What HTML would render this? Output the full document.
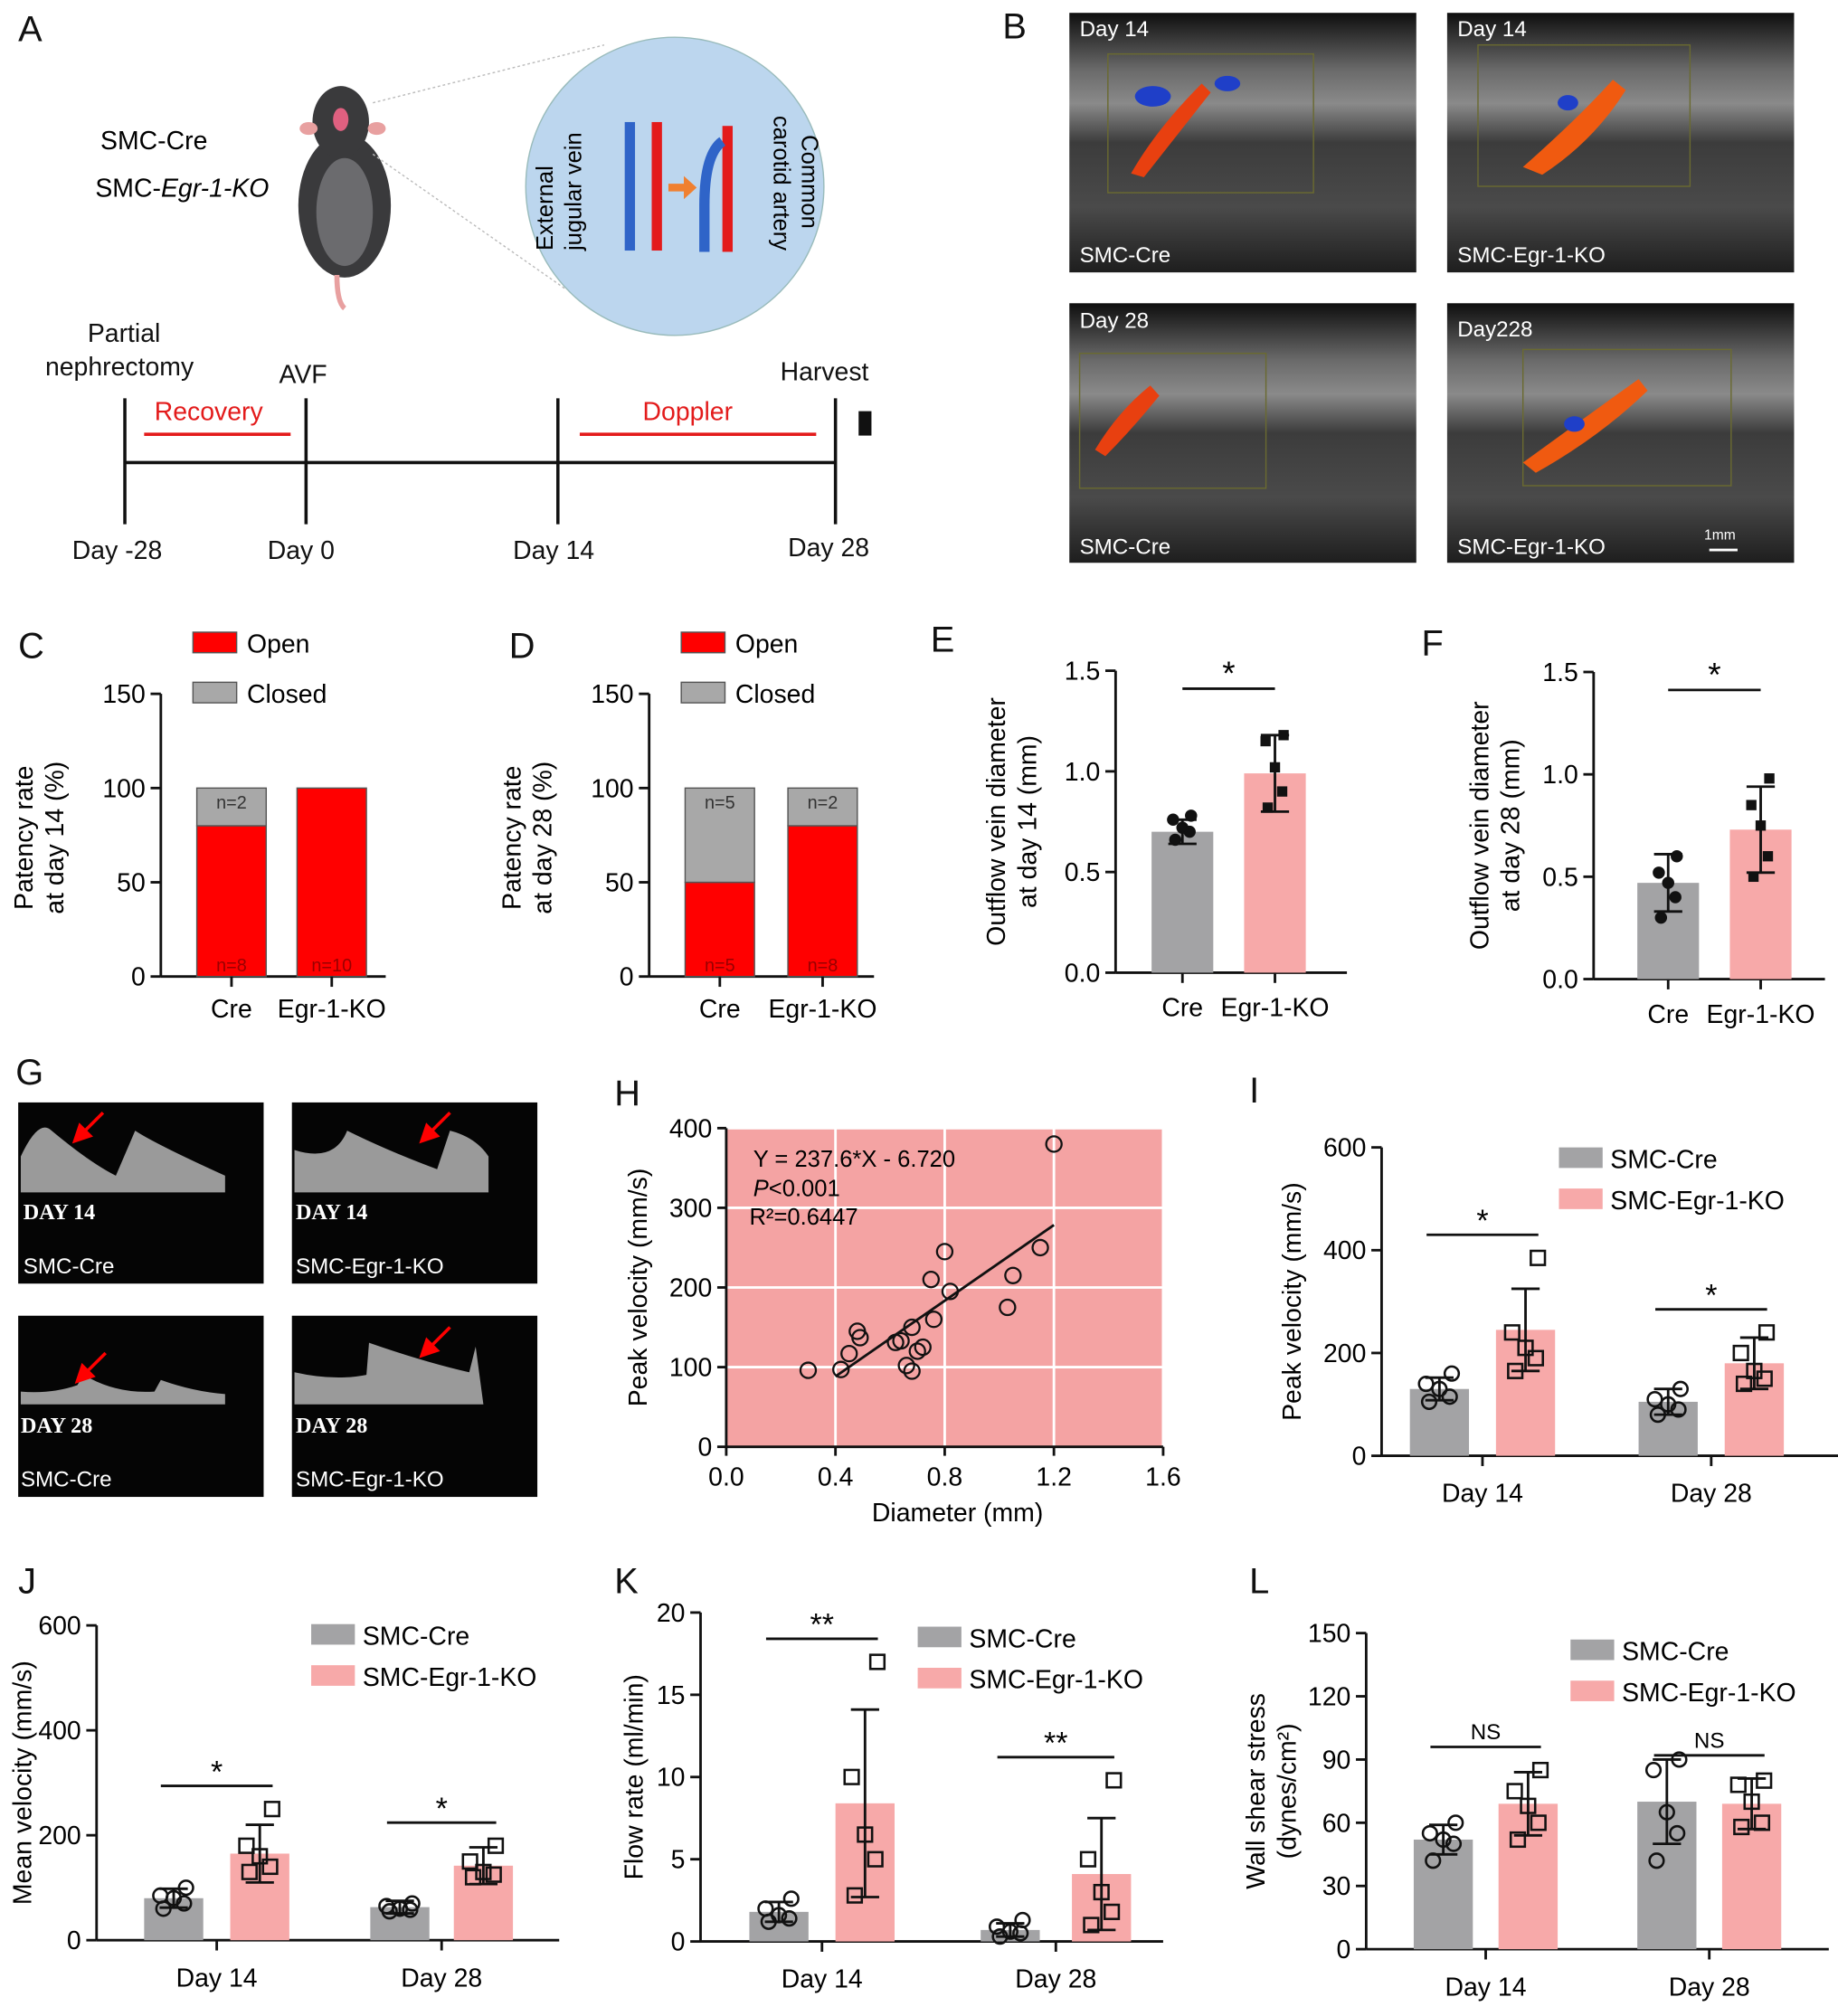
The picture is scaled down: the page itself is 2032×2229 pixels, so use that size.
<!DOCTYPE html>
<html><head><meta charset="utf-8">
<style>
html,body{margin:0;padding:0;background:#fff;}
svg{display:block;font-family:"Liberation Sans",Arial,sans-serif;}
</style></head>
<body>
<svg id="fig" width="2032" height="2229" viewBox="0 0 1430 1569" xmlns="http://www.w3.org/2000/svg">
<rect width="1430" height="1569" fill="#fff"/>
<g font-size="28" fill="#111">
<text x="14" y="32">A</text><text x="780" y="30">B</text>
<text x="14" y="512">C</text><text x="396" y="512">D</text><text x="724" y="507">E</text><text x="1106" y="510">F</text>
<text x="12" y="844">G</text><text x="478" y="860">H</text><text x="972" y="858">I</text>
<text x="14" y="1240">J</text><text x="478" y="1240">K</text><text x="972" y="1240">L</text>
</g>
<g>
<text x="78" y="116" font-size="20">SMC-Cre</text>
<text x="74" y="153" font-size="20">SMC-<tspan font-style="italic">Egr-1-KO</tspan></text>
<g>
<ellipse cx="268" cy="160" rx="36" ry="56" fill="#3a3a3c"/>
<ellipse cx="268" cy="165" rx="22" ry="42" fill="#6b6b6e"/>
<ellipse cx="265" cy="95" rx="22" ry="28" fill="#3a3a3c"/>
<ellipse cx="265" cy="93" rx="6" ry="9" fill="#e06080"/>
<ellipse cx="240" cy="100" rx="7" ry="5" fill="#e8a0a0"/><ellipse cx="293" cy="100" rx="7" ry="5" fill="#e8a0a0"/>
<path d="M262 214 Q262 235 268 240" stroke="#e8a0a0" stroke-width="4" fill="none"/>
</g>
<line x1="290" y1="80" x2="470" y2="35" stroke="#bbb" stroke-dasharray="2,2"/>
<line x1="290" y1="120" x2="440" y2="225" stroke="#bbb" stroke-dasharray="2,2"/>
<circle cx="525" cy="145" r="116" fill="#bcd6ee" stroke="#9bb"/>
<rect x="486" y="95" width="8" height="100" fill="#2f64c8"/><rect x="507" y="95" width="8" height="100" fill="#e31b1b"/>
<rect x="562" y="98" width="8" height="98" fill="#e31b1b"/>
<path d="M548 196 L548 160 Q548 120 562 110" stroke="#2f64c8" stroke-width="8" fill="none"/>
<path d="M520 143 h12 v-6 l10 9 l-10 9 v-6 h-12z" fill="#f08030"/>
<text transform="translate(430,195) rotate(-90)" font-size="18">External</text>
<text transform="translate(452,195) rotate(-90)" font-size="18">jugular vein</text>
<text transform="translate(602,90) rotate(90)" font-size="18">carotid artery</text>
<text transform="translate(624,105) rotate(90)" font-size="18">Common</text>
<g stroke="#111" stroke-width="2.5">
<line x1="97" y1="360" x2="650" y2="360"/>
<line x1="97" y1="310" x2="97" y2="408"/><line x1="238" y1="310" x2="238" y2="408"/>
<line x1="434" y1="310" x2="434" y2="408"/><line x1="650" y1="310" x2="650" y2="408"/>
</g>
<line x1="112" y1="338" x2="226" y2="338" stroke="#e31b1b" stroke-width="2.5"/>
<line x1="451" y1="338" x2="635" y2="338" stroke="#e31b1b" stroke-width="2.5"/>
<rect x="668" y="320" width="10" height="19" fill="#111"/>
<g font-size="20" fill="#111">
<text x="68" y="266">Partial</text><text x="35" y="292">nephrectomy</text>
<text x="217" y="298">AVF</text><text x="607" y="296">Harvest</text>
<text x="120" y="327" fill="#e31b1b">Recovery</text><text x="500" y="327" fill="#e31b1b">Doppler</text>
<text x="56" y="435">Day -28</text><text x="208" y="435">Day 0</text><text x="399" y="435">Day 14</text><text x="613" y="433">Day 28</text>
</g>
</g>
<defs>
<linearGradient id="us" x1="0" y1="0" x2="0" y2="1"><stop offset="0" stop-color="#0e0e0e"/><stop offset="0.22" stop-color="#6a6a6a"/><stop offset="0.35" stop-color="#8a8a8a"/><stop offset="0.5" stop-color="#3c3c3c"/><stop offset="0.75" stop-color="#4a4a4a"/><stop offset="1" stop-color="#1e1e1e"/></linearGradient>
</defs>
<g font-size="17" fill="#fff">
<g><rect x="832" y="10" width="270" height="202" fill="url(#us)"/>
<rect x="862" y="42" width="160" height="108" fill="none" stroke="#6a6a30"/>
<path d="M880 135 Q900 100 935 65 L942 72 Q912 110 890 138z" fill="#e84010"/><ellipse cx="897" cy="75" rx="14" ry="8" fill="#1f3fc8"/><ellipse cx="955" cy="65" rx="10" ry="6" fill="#1f3fc8"/>
<text x="840" y="28">Day 14</text><text x="840" y="204">SMC-Cre</text></g>
<g><rect x="1126" y="10" width="270" height="202" fill="url(#us)"/>
<rect x="1150" y="35" width="165" height="110" fill="none" stroke="#6a6a30"/>
<path d="M1185 130 Q1230 90 1255 62 L1265 70 Q1240 110 1200 136z" fill="#f05a10"/><ellipse cx="1220" cy="80" rx="8" ry="6" fill="#1f3fc8"/>
<text x="1134" y="28">Day 14</text><text x="1134" y="204">SMC-Egr-1-KO</text></g>
<g><rect x="832" y="236" width="270" height="202" fill="url(#us)"/>
<rect x="840" y="275" width="145" height="105" fill="none" stroke="#6a6a30"/>
<path d="M852 350 Q870 320 895 300 L902 308 Q880 335 860 355z" fill="#e84010"/>
<text x="840" y="255">Day  28</text><text x="840" y="431">SMC-Cre</text></g>
<g><rect x="1126" y="236" width="270" height="202" fill="url(#us)"/>
<rect x="1185" y="272" width="162" height="106" fill="none" stroke="#6a6a30"/>
<path d="M1185 360 Q1240 320 1275 295 L1282 304 Q1245 340 1195 368z" fill="#f05a10"/><ellipse cx="1225" cy="330" rx="8" ry="6" fill="#1f3fc8"/>
<text x="1134" y="262">Day228</text><text x="1134" y="431">SMC-Egr-1-KO</text>
<text x="1326" y="420" font-size="11">1mm</text><line x1="1330" y1="428" x2="1352" y2="428" stroke="#fff" stroke-width="2"/></g>
</g>
<g fill="#fff">
<g><rect x="14" y="858" width="191" height="141" fill="#050505"/>
<path d="M16 928 L16 900 Q30 870 40 880 Q70 905 90 915 L105 880 Q120 890 175 915 L175 928z" fill="#9a9a9a"/>
<text x="18" y="949" font-family="Liberation Serif" font-weight="bold" font-size="17">DAY 14</text><text x="18" y="991" font-size="17">SMC-Cre</text></g>
<g><rect x="227" y="858" width="191" height="141" fill="#050505"/>
<path d="M229 928 L229 895 Q260 905 270 880 Q300 895 340 910 L350 880 Q370 885 380 900 L380 928z" fill="#9a9a9a"/>
<text x="230" y="949" font-family="Liberation Serif" font-weight="bold" font-size="17">DAY 14</text><text x="230" y="991" font-size="17">SMC-Egr-1-KO</text></g>
<g><rect x="14" y="1024" width="191" height="141" fill="#050505"/>
<path d="M16 1093 L16 1083 Q40 1085 60 1078 L65 1070 Q90 1085 120 1083 L125 1074 Q150 1083 175 1085 L175 1093z" fill="#9a9a9a"/>
<text x="16" y="1115" font-family="Liberation Serif" font-weight="bold" font-size="17">DAY 28</text><text x="16" y="1157" font-size="17">SMC-Cre</text></g>
<g><rect x="227" y="1024" width="191" height="141" fill="#050505"/>
<path d="M229 1093 L229 1068 Q260 1075 285 1070 L287 1045 Q330 1060 365 1068 L370 1048 L376 1093z" fill="#9a9a9a"/>
<text x="230" y="1115" font-family="Liberation Serif" font-weight="bold" font-size="17">DAY 28</text><text x="230" y="1157" font-size="17">SMC-Egr-1-KO</text></g>
<g stroke="#f00" stroke-width="2.5" fill="#f00">
<line x1="80" y1="866" x2="64" y2="882"/><polygon points="58,888 62,876 70,884"/>
<line x1="350" y1="866" x2="334" y2="882"/><polygon points="328,888 332,876 340,884"/>
<line x1="82" y1="1053" x2="66" y2="1069"/><polygon points="60,1075 64,1063 72,1071"/>
<line x1="350" y1="1033" x2="334" y2="1049"/><polygon points="328,1055 332,1043 340,1051"/>
</g>
</g>
<g id="charts"></g>
</svg>
<script>
var cCats=["Cre","Egr-1-KO"]; var cOpen=[80,100]; var cClosed=[20,0]; var cOpenN=["n=8","n=10"]; var cClosedN=["n=2",""];
var dCats=["Cre","Egr-1-KO"]; var dOpen=[50,80]; var dClosed=[50,20]; var dOpenN=["n=5","n=8"]; var dClosedN=["n=5","n=2"];
var stackTicks=[0,50,100,150];
var eCats=["Cre","Egr-1-KO"]; var eMeans=[0.70,0.99]; var eSD=[0.06,0.19];
var ePts=[[0.66,0.70,0.72,0.76,0.78],[0.82,0.90,1.02,1.15,1.18]];
var fCats=["Cre","Egr-1-KO"]; var fMeans=[0.47,0.73]; var fSD=[0.14,0.21];
var fPts=[[0.30,0.40,0.47,0.52,0.60],[0.50,0.60,0.75,0.85,0.98]];
var diamTicks=[0,0.5,1.0,1.5];
var hX=[0.30,0.42,0.45,0.48,0.49,0.62,0.64,0.66,0.68,0.68,0.70,0.72,0.75,0.76,0.80,0.82,1.03,1.05,1.15,1.20];
var hY=[96,97,117,145,137,131,133,102,95,150,120,125,210,160,245,195,175,215,250,380];
var hXTicks=[0,0.4,0.8,1.2,1.6]; var hYTicks=[0,100,200,300,400];
var hSlope=237.6; var hIntercept=-6.720;
var dayCats=["Day 14","Day 28"];
var iMeans=[[130,245],[105,180]]; var iSD=[[22,80],[25,50]];
var iPts=[[[105,115,130,140,160],[165,190,210,240,385]],[[80,90,100,110,130],[140,150,165,200,240]]];
var iTicks=[0,200,400,600]; var iSig=["*","*"];
var jMeans=[[80,165],[63,142]]; var jSD=[[18,55],[12,35]];
var jPts=[[[60,70,80,85,100],[130,140,160,180,250]],[[55,58,60,65,70],[120,125,130,150,180]]];
var jTicks=[0,200,400,600]; var jSig=["*","*"];
var kMeans=[[1.8,8.4],[0.7,4.1]]; var kSD=[[0.6,5.7],[0.4,3.4]];
var kPts=[[[1.2,1.4,1.6,2.0,2.6],[2.8,5,6.5,10,17]],[[0.3,0.5,0.6,0.9,1.3],[1.0,1.8,3,5,9.8]]];
var kTicks=[0,5,10,15,20]; var kSig=["**","**"];
var lMeans=[[52,69],[70,69]]; var lSD=[[7,15],[20,12]];
var lPts=[[[42,50,52,55,60],[52,60,68,75,85]],[[42,55,65,85,90],[58,60,70,78,80]]];
var lTicks=[0,30,60,90,120,150]; var lSig=["NS","NS"];

var NS="http://www.w3.org/2000/svg"; var root=document.getElementById("charts");
function mk(tag,at,parent,txt){var e=document.createElementNS(NS,tag);for(var k in at)e.setAttribute(k,at[k]);if(txt!==undefined)e.textContent=txt;(parent||root).appendChild(e);return e;}
var GRAY="#a3a3a5", PINK="#f7a9a9", RED="#ff0000";
var JIT=[-1,1,0,-1.3,1.2];

function yAxis(g,x,y0,y1,vmax,ticks,fmt){
  var sc=function(v){return y0-(y0-y1)*v/vmax;};
  var ax=mk("line",{x1:x,y1:sc(0),x2:x,y2:sc(ticks[ticks.length-1]),stroke:"#111","stroke-width":2},g);
   
  ticks.forEach(function(t){
    mk("line",{x1:x-8,y1:sc(t),x2:x,y2:sc(t),stroke:"#111","stroke-width":2},g);
    var lb=mk("text",{x:x-12,y:sc(t)+7,"font-size":20,"text-anchor":"end"},g,fmt?fmt(t):t);
     
  });
  return sc;
}
function yTitle(g,x,y,lines){
  lines.forEach(function(s,i){var t=mk("text",{transform:"translate("+(x+i*24)+","+y+") rotate(-90)","font-size":20,"text-anchor":"middle"},g,s);
   });
}
function stacked(name,ax,xs,cats,open,closed,openN,closedN,title){
  var g=mk("g",{});  
  var sc=yAxis(g,ax,760,540,150,stackTicks);
  mk("line",{x1:ax,y1:760,x2:ax+175,y2:760,stroke:"#111","stroke-width":2},g);
  yTitle(g,ax-100,652,title);
  cats.forEach(function(c,i){
    var x=xs[i];
    var r=mk("rect",{x:x-27,y:sc(open[i]),width:54,height:sc(0)-sc(open[i]),fill:RED,stroke:"#555"},g);
     
    if(closed[i]>0){var r2=mk("rect",{x:x-27,y:sc(open[i]+closed[i]),width:54,height:sc(open[i])-sc(open[i]+closed[i]),fill:"#a8a8a8",stroke:"#555"},g);
     }
    mk("line",{x1:x,y1:760,x2:x,y2:768,stroke:"#111","stroke-width":2},g);
    mk("text",{x:x,y:792,"font-size":20,"text-anchor":"middle"},g,c);
    mk("text",{x:x,y:756,"font-size":14,"text-anchor":"middle",fill:"#900"},g,openN[i]);
    if(closedN[i])mk("text",{x:x,y:sc(100)+16,"font-size":14,"text-anchor":"middle",fill:"#333"},g,closedN[i]);
  });
  var lx=ax+25;
  var l1=mk("rect",{x:lx,y:492,width:34,height:16,fill:RED,stroke:"#555"},g);  
  mk("text",{x:lx+42,y:508,"font-size":20},g,"Open");
  var l2=mk("rect",{x:lx,y:531,width:34,height:16,fill:"#a8a8a8",stroke:"#555"},g);  
  mk("text",{x:lx+42,y:547,"font-size":20},g,"Closed");
}
stacked("panel-c",125,[180,258],cCats,cOpen,cClosed,cOpenN,cClosedN,["Patency rate","at day 14 (%)"]);
stacked("panel-d",505,[560,640],dCats,dOpen,dClosed,dOpenN,dClosedN,["Patency rate","at day 28 (%)"]);

function dots(g,x,pts,sc,shape,fill){
  pts.forEach(function(v,j){
    var dx=JIT[j%5]*8; var y=sc(v);
    var d;
    if(shape=="circle") d=mk("circle",{cx:x+dx*0.7,cy:y,r:4,fill:fill,stroke:"#111","stroke-width":1.5},g);
    else if(shape=="ocircle") d=mk("circle",{cx:x+dx,cy:y,r:5.5,fill:"none",stroke:"#111","stroke-width":1.8},g);
    else if(shape=="osquare") d=mk("rect",{x:x+dx-5.5,y:y-5.5,width:11,height:11,fill:"none",stroke:"#111","stroke-width":1.8},g);
    else d=mk("rect",{x:x+dx*0.7-4,y:y-4,width:8,height:8,fill:"#111"},g);
     
  });
}
function errbar(g,x,m,s,sc){
  mk("line",{x1:x,y1:sc(m-s),x2:x,y2:sc(m+s),stroke:"#111","stroke-width":2},g);
  mk("line",{x1:x-11,y1:sc(m+s),x2:x+11,y2:sc(m+s),stroke:"#111","stroke-width":2},g);
  mk("line",{x1:x-11,y1:sc(m-s),x2:x+11,y2:sc(m-s),stroke:"#111","stroke-width":2},g);
}
function twoBar(name,ax,y0,y1,xs,cats,means,sd,pts,title,tx){
  var g=mk("g",{});  
  var sc=yAxis(g,ax,y0,y1,1.5,diamTicks,function(t){return t.toFixed(1);});
  mk("line",{x1:ax,y1:y0,x2:ax+180,y2:y0,stroke:"#111","stroke-width":2},g);
  yTitle(g,tx,(y0+y1)/2,title);
  cats.forEach(function(c,i){
    var r=mk("rect",{x:xs[i]-24,y:sc(means[i]),width:48,height:y0-sc(means[i]),fill:i?PINK:GRAY},g);
     
    errbar(g,xs[i],means[i],sd[i],sc);
    dots(g,xs[i],pts[i],sc,i?"square":"circle","#111");
    mk("line",{x1:xs[i],y1:y0,x2:xs[i],y2:y0+8,stroke:"#111","stroke-width":2},g);
    mk("text",{x:xs[i],y:y0+34,"font-size":20,"text-anchor":"middle"},g,c);
  });
  var sy=sc(1.5)+14;
  mk("line",{x1:xs[0],y1:sy,x2:xs[1],y2:sy,stroke:"#111","stroke-width":2},g);
  mk("text",{x:(xs[0]+xs[1])/2,y:sy-3,"font-size":26,"text-anchor":"middle"},g,"*");
}
twoBar("panel-e",868,757,522,[920,992],eCats,eMeans,eSD,ePts,["Outflow vein diameter","at day 14 (mm)"],782);
twoBar("panel-f",1240,762,523,[1298,1370],fCats,fMeans,fSD,fPts,["Outflow vein diameter","at day 28 (mm)"],1158);

(function(){
  var g=mk("g",{});  
  var X0=565,X1=905,Y0=1126,Y1=878;
  var sx=function(v){return X0+(X1-X0)*v/1.6;}, sy=function(v){return Y0-(Y0-Y1)*v/400;};
  var bg=mk("rect",{x:X0,y:Y1,width:X1-X0,height:Y0-Y1,fill:"#f4a3a3"},g);  
  hXTicks.forEach(function(t){ if(t>0) mk("line",{x1:sx(t),y1:Y0,x2:sx(t),y2:Y1,stroke:"#fff","stroke-width":2},g);
    mk("line",{x1:sx(t),y1:Y0,x2:sx(t),y2:Y0+7,stroke:"#111","stroke-width":2},g);
    var l=mk("text",{x:sx(t),y:Y0+30,"font-size":20,"text-anchor":"middle"},g,t.toFixed(1));  });
  hYTicks.forEach(function(t){ if(t>0) mk("line",{x1:X0,y1:sy(t),x2:X1,y2:sy(t),stroke:"#fff","stroke-width":2},g);
    mk("line",{x1:X0-7,y1:sy(t),x2:X0,y2:sy(t),stroke:"#111","stroke-width":2},g);
    var l=mk("text",{x:X0-11,y:sy(t)+7,"font-size":20,"text-anchor":"end"},g,t);  });
  mk("line",{x1:X0,y1:Y0,x2:X1,y2:Y0,stroke:"#111","stroke-width":2},g);
  mk("line",{x1:X0,y1:Y0,x2:X0,y2:Y1,stroke:"#111","stroke-width":2},g);
  var fl=mk("line",{x1:sx(0.4),y1:sy(hSlope*0.4+hIntercept),x2:sx(1.2),y2:sy(hSlope*1.2+hIntercept),stroke:"#111","stroke-width":2},g);
   
  hX.forEach(function(v,i){var c=mk("circle",{cx:sx(v),cy:sy(hY[i]),r:6,fill:"none",stroke:"#111","stroke-width":1.6},g);
     });
  mk("text",{x:586,y:908,"font-size":18},g,"Y = 237.6*X - 6.720");
  var p=mk("text",{x:586,y:931,"font-size":18},g); p.innerHTML='<tspan font-style="italic">P</tspan>&lt;0.001';
  mk("text",{x:583,y:953,"font-size":18},g,"R²=0.6447");
  mk("text",{x:745,y:1184,"font-size":20,"text-anchor":"middle"},g,"Diameter (mm)");
  yTitle(g,503,1002,["Peak velocity (mm/s)"]);
})();

function grouped(name,ax,y0,y1,vmax,ticks,xs,means,sd,pts,sig,title,tx,legY,legX){
  var g=mk("g",{});  
  var sc=yAxis(g,ax,y0,y1,vmax,ticks);
  mk("line",{x1:ax,y1:y0,x2:ax+360,y2:y0,stroke:"#111","stroke-width":2},g);
  yTitle(g,tx,(y0+y1)/2,title);
  dayCats.forEach(function(d,i){
    [0,1].forEach(function(k){
      var x=xs[i][k];
      var r=mk("rect",{x:x-23,y:sc(means[i][k]),width:46,height:y0-sc(means[i][k]),fill:k?PINK:GRAY},g);
       
      errbar(g,x,means[i][k],sd[i][k],sc);
      dots(g,x,pts[i][k],sc,k?"osquare":"ocircle");
    });
    var cx=(xs[i][0]+xs[i][1])/2;
    mk("line",{x1:cx,y1:y0,x2:cx,y2:y0+8,stroke:"#111","stroke-width":2},g);
    mk("text",{x:cx,y:y0+36,"font-size":20,"text-anchor":"middle"},g,d);
    var top=Math.max.apply(null,pts[i][1].concat([means[i][1]+sd[i][1]]));
    var sy=sc(top)-18;
    mk("line",{x1:xs[i][0]-10,y1:sy,x2:xs[i][1]+10,y2:sy,stroke:"#111","stroke-width":2},g);
    mk("text",{x:cx,y:sy-(sig[i]=="NS"?6:3),"font-size":sig[i]=="NS"?17:24,"text-anchor":"middle"},g,sig[i]);
  });
  var a=mk("rect",{x:legX,y:legY-15,width:34,height:16,fill:GRAY},g);  
  mk("text",{x:legX+40,y:legY+1,"font-size":20},g,"SMC-Cre");
  var b=mk("rect",{x:legX,y:legY+17,width:34,height:16,fill:PINK},g);  
  mk("text",{x:legX+40,y:legY+33,"font-size":20},g,"SMC-Egr-1-KO");
}
grouped("panel-i",1075,1133,893,600,iTicks,[[1120,1187],[1298,1365]],iMeans,iSD,iPts,iSig,["Peak velocity (mm/s)"],1012,908,1213);
grouped("panel-j",75,1510,1265,600,jTicks,[[135,202],[311,376]],jMeans,jSD,jPts,jSig,["Mean velocity (mm/s)"],24,1279,242);
grouped("panel-k",545,1511,1255,20,kTicks,[[606,673],[786,857]],kMeans,kSD,kPts,kSig,["Flow rate (ml/min)"],500,1281,714);
grouped("panel-l",1063,1517,1271,150,lTicks,[[1123,1189],[1297,1363]],lMeans,lSD,lPts,lSig,["Wall shear stress","(dynes/cm²)"],984,1291,1222);
</script>
</body></html>
